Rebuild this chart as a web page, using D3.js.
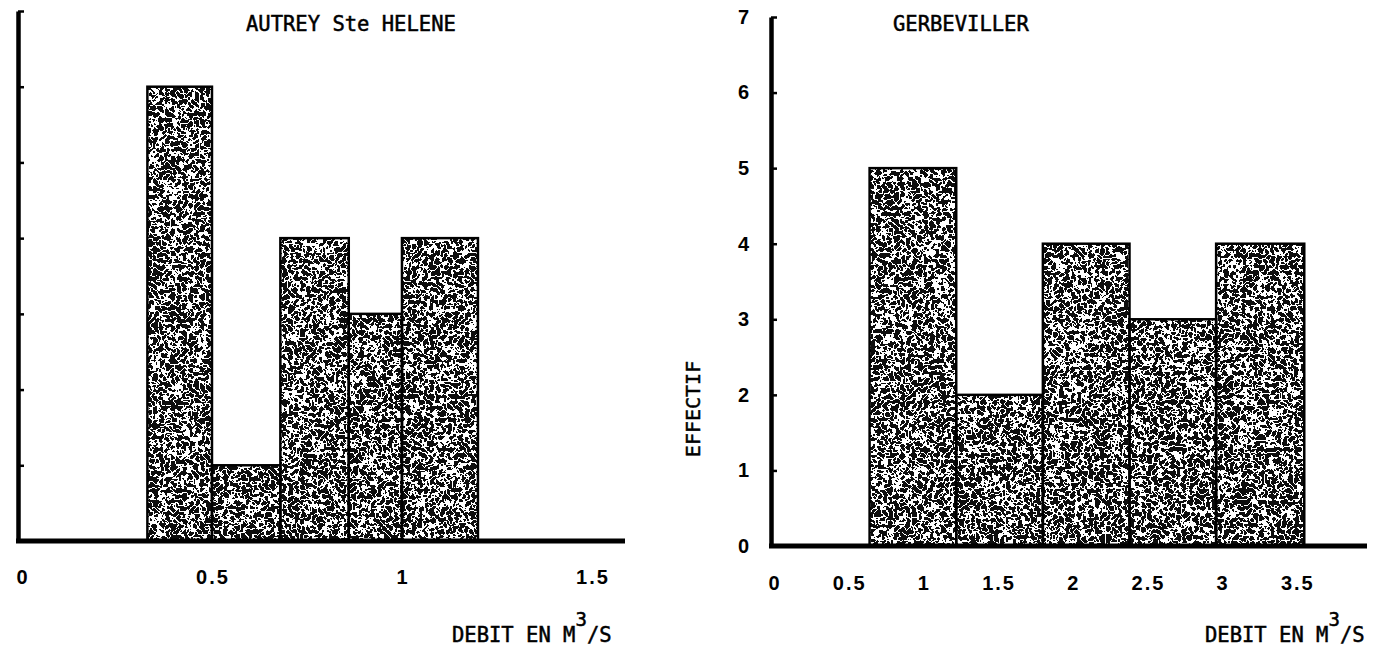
<!DOCTYPE html>
<html><head><meta charset="utf-8">
<script src="https://cdn.jsdelivr.net/npm/d3@7"></script>
<style>
html,body{margin:0;padding:0;background:#fff;}
svg{display:block;}
.mono{font-family:"DejaVu Sans Mono",monospace;fill:#000;stroke:#000;stroke-width:0.5px;}
.num{font-family:"Liberation Sans",Arial,sans-serif;font-weight:bold;fill:#000;}
</style></head>
<body>
<svg id="c" width="1377" height="648"></svg>
<script>
// ---- data ----
const leftTitle = "AUTREY Ste HELENE";
const leftEdges = [0.33, 0.5, 0.68, 0.86, 1.0, 1.2];
const leftCounts = [6, 1, 4, 3, 4];
const leftXTicks = [0, 0.5, 1, 1.5];

const rightTitle = "GERBEVILLER";
const rightEdges = [0.64, 1.22, 1.80, 2.38, 2.96, 3.55];
const rightCounts = [5, 2, 4, 3, 4];
const rightXTicks = [0, 0.5, 1, 1.5, 2, 2.5, 3, 3.5];

const yTicks = [0, 1, 2, 3, 4, 5, 6, 7];
const yLabel = "EFFECTIF";
const xLabelMain = "DEBIT EN M";
const xLabelSup = "3";
const xLabelEnd = "/S";

// ---- drawing ----
const svg = d3.select("#c");
const defs = svg.append("defs");
const f = defs.append("filter").attr("id","tex")
  .attr("filterUnits","userSpaceOnUse").attr("x",0).attr("y",0).attr("width",1377).attr("height",648);
f.append("feTurbulence").attr("type","fractalNoise").attr("baseFrequency","0.17")
  .attr("numOctaves",2).attr("seed",7).attr("result","n");
f.append("feColorMatrix").attr("in","n").attr("type","matrix")
  .attr("values","0 0 0 0 1  0 0 0 0 1  0 0 0 0 1  1 0 0 0 0").attr("result","w");
const ct = f.append("feComponentTransfer").attr("in","w").attr("result","b");
ct.append("feFuncA").attr("type","discrete").attr("tableValues","0 0 0 0 0 0 0 1 1 0 0 0 0 0 0 0");
f.append("feComposite").attr("in","b").attr("in2","SourceGraphic").attr("operator","in").attr("result","s");
const m = f.append("feMerge");
m.append("feMergeNode").attr("in","SourceGraphic");
m.append("feMergeNode").attr("in","s");

function panel(opt){
  const x = d3.scaleLinear().domain(opt.xDomain).range(opt.xRange);
  const y = d3.scaleLinear().domain([0,7]).range(opt.yRange);
  const g = svg.append("g");
  const bins = opt.counts.map((c,i)=>({x0:opt.edges[i], x1:opt.edges[i+1], c}));
  // filled bars
  g.append("g").attr("filter","url(#tex)").selectAll("rect").data(bins).join("rect")
    .attr("x",d=>x(d.x0)).attr("y",d=>y(d.c))
    .attr("width",d=>x(d.x1)-x(d.x0)).attr("height",d=>y(0)-y(d.c))
    .attr("fill","#0a0a0a");
  // outlines
  g.append("g").selectAll("rect").data(bins).join("rect")
    .attr("x",d=>x(d.x0)).attr("y",d=>y(d.c))
    .attr("width",d=>x(d.x1)-x(d.x0)).attr("height",d=>y(0)-y(d.c))
    .attr("fill","none").attr("stroke","#000").attr("stroke-width",2.5);
  // y axis
  const ax = x(0) - opt.yAxisShift;
  const yAxis = d3.axisLeft(y).tickValues(yTicks).tickSizeInner(-6).tickSizeOuter(0)
    .tickPadding(opt.showY ? 22 : 0).tickFormat(opt.showY ? d3.format("d") : "");
  const yg = g.append("g").attr("transform",`translate(${ax},0)`).call(yAxis);
  yg.select(".domain").attr("stroke","#000").attr("stroke-width",4.5);
  yg.selectAll(".tick line").attr("stroke","#000").attr("stroke-width",2.5);
  yg.selectAll(".tick text").attr("class","num").attr("font-size",20).style("font-family",null);
  yg.selectAll(".tick").filter(d=>d===0).select("line").remove();
  // x axis line
  g.append("line").attr("x1",ax-2).attr("x2",x.range()[1]).attr("y1",y(0)).attr("y2",y(0))
    .attr("stroke","#000").attr("stroke-width",5);
  // x ticks labels
  g.append("g").selectAll("text").data(opt.xTicks).join("text")
    .attr("class","num").attr("font-size",20).attr("letter-spacing",2).attr("text-anchor","middle")
    .attr("x",d=>x(d)+1).attr("y",opt.xLabelY)
    .text(d=>d3.format("")(d));
  // title
  g.append("text").attr("class","mono").attr("font-size",20.5)
    .attr("x",opt.titleX).attr("y",31).text(opt.title);
  // x label
  const t = g.append("text").attr("class","mono").attr("font-size",20.5)
    .attr("x",opt.xlabX).attr("y",642);
  t.append("tspan").text(xLabelMain);
  t.append("tspan").attr("dy",-16).attr("font-size",19).text(xLabelSup);
  t.append("tspan").attr("dy",16).text(xLabelEnd);
  return {x,y};
}

panel({title:leftTitle, edges:leftEdges, counts:leftCounts, xTicks:leftXTicks,
  xDomain:[0,1.587], xRange:[22,625], yRange:[541,11], yAxisShift:4, showY:false,
  xLabelY:584, titleX:246, xlabX:452});
panel({title:rightTitle, edges:rightEdges, counts:rightCounts, xTicks:rightXTicks,
  xDomain:[0,3.97], xRange:[774,1367], yRange:[546,17], yAxisShift:3, showY:true,
  xLabelY:590, titleX:893, xlabX:1205});

// y label
svg.append("text").attr("class","mono").attr("font-size",20)
  .attr("transform","translate(700,409) rotate(-90)").attr("text-anchor","middle").text(yLabel);
</script>
</body></html>
